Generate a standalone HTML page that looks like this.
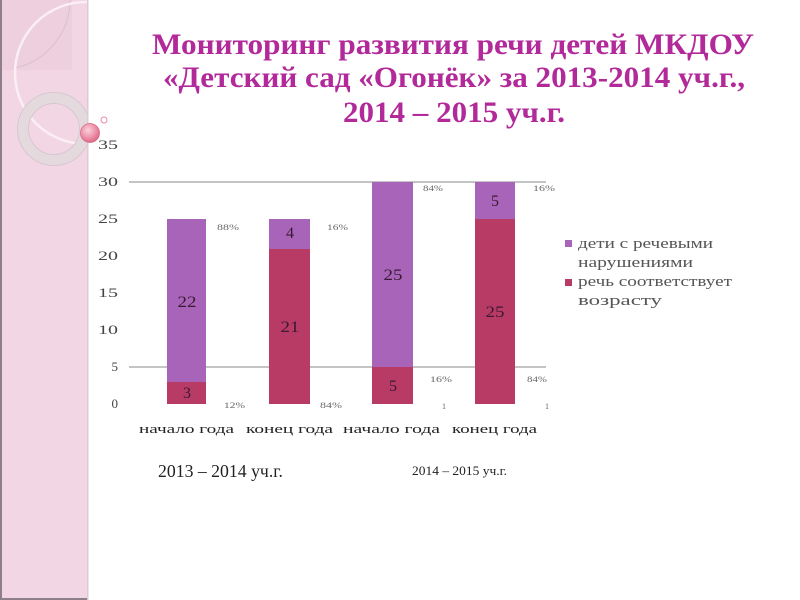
<!DOCTYPE html>
<html><head><meta charset="utf-8"><style>
html,body{margin:0;padding:0;background:#fff;}
svg{display:block;}
</style></head><body>
<svg width="800" height="600" viewBox="0 0 800 600" xmlns="http://www.w3.org/2000/svg">
<defs>
<clipPath id="pc"><rect x="0" y="0" width="88" height="600"/></clipPath>
<radialGradient id="ball" cx="0.4" cy="0.35" r="0.7">
<stop offset="0" stop-color="#fbd0db"/><stop offset="0.6" stop-color="#ec8ea6"/><stop offset="1" stop-color="#d9647f"/>
</radialGradient>
</defs>
<rect width="800" height="600" fill="#fff"/>
<!-- left panel -->
<rect x="0" y="0" width="88" height="600" fill="#f2d6e3"/>
<g clip-path="url(#pc)">
<rect x="0" y="0" width="72" height="70" fill="#eecfdd"/>
<path d="M70,0 A70,70 0 0 1 15,68" fill="none" stroke="#dcbfcc" stroke-width="1"/>
<circle cx="86" cy="73" r="71" fill="none" stroke="#fbeff4" stroke-width="2.5"/>
<circle cx="54" cy="129" r="31" fill="none" stroke="#e4dade" stroke-width="11"/>
<circle cx="54" cy="129" r="36.5" fill="none" stroke="#d2c4cb" stroke-width="0.8"/>
<circle cx="54" cy="129" r="25.5" fill="none" stroke="#d2c4cb" stroke-width="0.8"/>
</g>
<rect x="0" y="0" width="2" height="600" fill="#8f7f8a"/>
<rect x="0" y="598" width="88" height="2" fill="#8f7f8a"/>
<rect x="87" y="0" width="1.5" height="600" fill="#d9cdd3"/>
<circle cx="90" cy="133" r="9.5" fill="url(#ball)" stroke="#d46b86" stroke-width="0.8"/>
<circle cx="104" cy="120" r="3" fill="#fff" stroke="#e68aa2" stroke-width="1"/>

<!-- title -->
<g font-family="'Liberation Serif', serif" font-weight="bold" font-size="30" fill="#b2299a" text-anchor="middle">
<text x="453" y="54" textLength="602" lengthAdjust="spacingAndGlyphs">Мониторинг развития речи детей МКДОУ</text>
<text x="454" y="87" textLength="582" lengthAdjust="spacingAndGlyphs">«Детский сад «Огонёк» за 2013-2014 уч.г.,</text>
<text x="454" y="122" textLength="222" lengthAdjust="spacingAndGlyphs">2014 – 2015 уч.г.</text>
</g>

<!-- y axis labels -->
<g font-family="'Liberation Serif', serif" font-size="13" fill="#444" text-anchor="end">
<text x="118" y="149" textLength="20" lengthAdjust="spacingAndGlyphs">35</text>
<text x="118" y="186" textLength="20" lengthAdjust="spacingAndGlyphs">30</text>
<text x="118" y="223" textLength="20" lengthAdjust="spacingAndGlyphs">25</text>
<text x="118" y="260" textLength="20" lengthAdjust="spacingAndGlyphs">20</text>
<text x="118" y="297" textLength="20" lengthAdjust="spacingAndGlyphs">15</text>
<text x="118" y="334" textLength="20" lengthAdjust="spacingAndGlyphs">10</text>
<text x="118" y="371">5</text>
<text x="118" y="408">0</text>
</g>

<!-- gridlines -->
<line x1="129" y1="182" x2="546" y2="182" stroke="#8a8a8a" stroke-width="1"/>
<line x1="129" y1="367" x2="546" y2="367" stroke="#8a8a8a" stroke-width="1"/>

<!-- bars -->
<g>
<rect x="167" y="382" width="39" height="22" fill="#b83b66"/>
<rect x="167" y="219" width="39" height="163" fill="#a864b8"/>
<rect x="269" y="249" width="41" height="155" fill="#b83b66"/>
<rect x="269" y="219" width="41" height="30" fill="#a864b8"/>
<rect x="372" y="367" width="41" height="37" fill="#b83b66"/>
<rect x="372" y="182" width="41" height="185" fill="#a864b8"/>
<rect x="475" y="219" width="40" height="185" fill="#b83b66"/>
<rect x="475" y="182" width="40" height="37" fill="#a864b8"/>
</g>

<!-- bar value labels -->
<g font-family="'Liberation Serif', serif" font-size="16" fill="#3a1a32" text-anchor="middle">
<text x="187" y="307" textLength="19" lengthAdjust="spacingAndGlyphs">22</text>
<text x="187" y="398">3</text>
<text x="290" y="238">4</text>
<text x="290" y="332" textLength="19" lengthAdjust="spacingAndGlyphs">21</text>
<text x="393" y="280" textLength="19" lengthAdjust="spacingAndGlyphs">25</text>
<text x="393" y="391">5</text>
<text x="495" y="206">5</text>
<text x="495" y="317" textLength="19" lengthAdjust="spacingAndGlyphs">25</text>
</g>

<!-- percent labels -->
<g font-family="'Liberation Serif', serif" font-size="8" fill="#666">
<text x="217" y="230" textLength="22" lengthAdjust="spacingAndGlyphs">88%</text>
<text x="327" y="230" textLength="21" lengthAdjust="spacingAndGlyphs">16%</text>
<text x="224" y="408" textLength="21" lengthAdjust="spacingAndGlyphs">12%</text>
<text x="320" y="408" textLength="22" lengthAdjust="spacingAndGlyphs">84%</text>
<text x="423" y="191" textLength="20" lengthAdjust="spacingAndGlyphs">84%</text>
<text x="533" y="191" textLength="22" lengthAdjust="spacingAndGlyphs">16%</text>
<text x="430" y="382" textLength="22" lengthAdjust="spacingAndGlyphs">16%</text>
<text x="527" y="382" textLength="20" lengthAdjust="spacingAndGlyphs">84%</text>
<text x="442" y="409">1</text>
<text x="545" y="409">1</text>
</g>

<!-- category labels -->
<g font-family="'Liberation Serif', serif" font-size="13" fill="#222">
<text x="139" y="433" textLength="95" lengthAdjust="spacingAndGlyphs">начало года</text>
<text x="246" y="433" textLength="87" lengthAdjust="spacingAndGlyphs">конец года</text>
<text x="343" y="433" textLength="97" lengthAdjust="spacingAndGlyphs">начало года</text>
<text x="452" y="433" textLength="85" lengthAdjust="spacingAndGlyphs">конец года</text>
</g>

<!-- period labels -->
<g font-family="'Liberation Serif', serif" fill="#222">
<text x="158" y="477" font-size="17.5" textLength="125" lengthAdjust="spacingAndGlyphs">2013 – 2014 уч.г.</text>
<text x="412" y="475" font-size="12.5" textLength="95" lengthAdjust="spacingAndGlyphs">2014 – 2015 уч.г.</text>
</g>

<!-- legend -->
<rect x="565" y="240" width="7" height="7" fill="#a864b8"/>
<rect x="565" y="279" width="7" height="7" fill="#b83b66"/>
<g font-family="'Liberation Serif', serif" font-size="15" fill="#555">
<text x="578" y="248" textLength="135" lengthAdjust="spacingAndGlyphs">дети с речевыми</text>
<text x="578" y="267" textLength="115" lengthAdjust="spacingAndGlyphs">нарушениями</text>
<text x="578" y="286" textLength="154" lengthAdjust="spacingAndGlyphs">речь соответствует</text>
<text x="578" y="305" textLength="84" lengthAdjust="spacingAndGlyphs">возрасту</text>
</g>
</svg>
</body></html>
